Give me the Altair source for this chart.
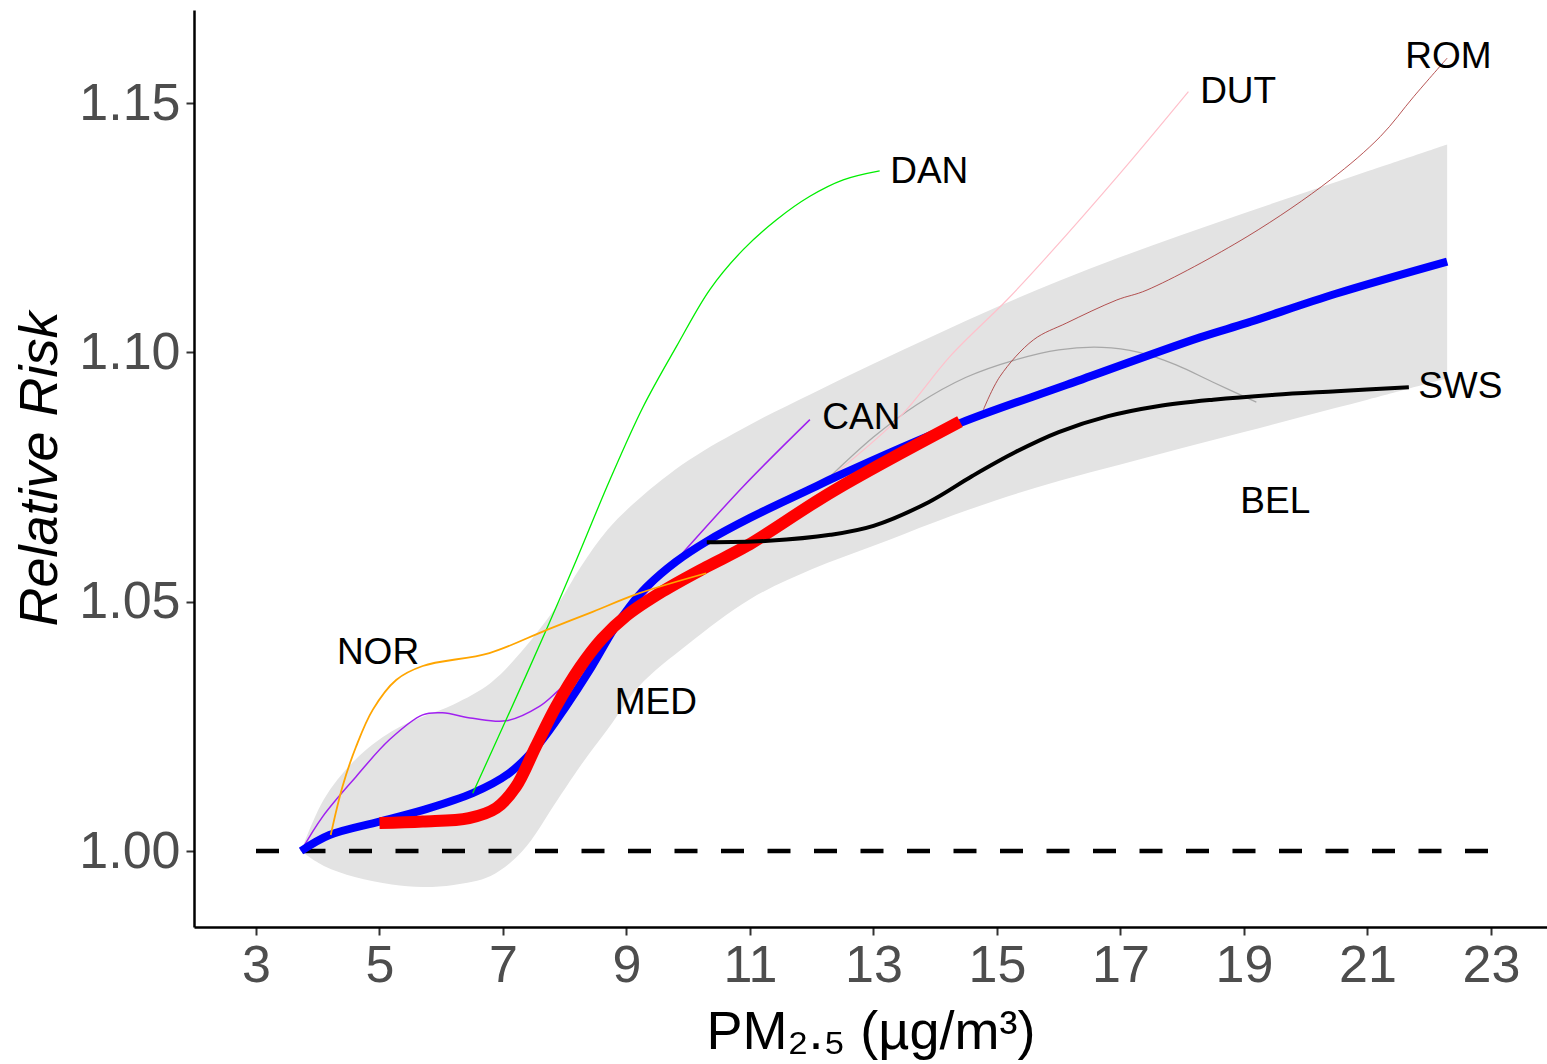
import altair as alt
import pandas as pd

# ---------------- data ----------------
band_x = [3.73, 4.1, 4.6, 5.2, 5.7, 6.2, 6.8, 7.3, 7.9, 8.25, 8.7, 9.2, 10.0, 11.0,
          12.0, 13.0, 14.0, 15.0, 16.0, 17.0, 18.0, 19.0, 20.0, 21.0, 22.29]
band_upper = [1.000, 1.0104, 1.0182, 1.0240, 1.0269, 1.0294, 1.0337, 1.0400, 1.0497, 1.0568,
              1.0645, 1.0706, 1.0783, 1.0855, 1.0917, 1.0977, 1.1035, 1.1091, 1.1143, 1.1191,
              1.1236, 1.1279, 1.1321, 1.1363, 1.1417]
band_lower = [1.000, 0.9970, 0.9948, 0.9933, 0.9928, 0.9932, 0.9950, 0.9998, 1.0106, 1.0170,
              1.0245, 1.0330, 1.0415, 1.0505, 1.0565, 1.0612, 1.0660, 1.0704, 1.0742, 1.0775,
              1.0808, 1.0840, 1.0873, 1.0905, 1.0948]

pooled_x = [3.73, 4.19, 5.00, 5.70, 6.51, 7.10, 7.59, 8.02, 8.40, 8.80, 9.05, 9.33, 9.80,
            10.30, 11.0, 12.0, 12.35, 14.40, 16.13, 18.29, 19.05, 20.5, 22.29]
pooled_y = [1.0000, 1.0032, 1.0059, 1.0082, 1.0116, 1.0156, 1.0216, 1.0290, 1.0362, 1.0446,
            1.0490, 1.0530, 1.0580, 1.0621, 1.0668, 1.0727, 1.0748, 1.0858, 1.0935, 1.1030,
            1.1059, 1.1118, 1.1182]

med_x = [5.00, 5.70, 6.45, 6.89, 7.21, 7.53, 7.86, 8.25, 8.60, 9.00, 9.59, 10.30, 10.95,
         12.35, 14.40]
med_y = [1.0056, 1.0059, 1.0066, 1.0086, 1.0129, 1.0209, 1.0290, 1.0369, 1.0425, 1.0472,
         1.0521, 1.0570, 1.0612, 1.0722, 1.0861]

can_x = [3.73, 4.08, 4.62, 5.16, 5.70, 6.02, 6.51, 7.05, 7.59, 7.91, 8.4, 9.2, 9.81, 10.89, 11.97]
can_y = [1.0000, 1.0069, 1.0149, 1.0223, 1.0273, 1.0277, 1.0266, 1.0261, 1.0290, 1.0323,
         1.0375, 1.0500, 1.0584, 1.0731, 1.0865]

nor_x = [4.21, 4.40, 4.62, 4.89, 5.27, 5.70, 6.78, 7.70, 8.40, 9.21, 10.29]
nor_y = [1.0032, 1.0129, 1.0209, 1.0283, 1.0343, 1.0371, 1.0397, 1.0443, 1.0477, 1.0517, 1.0557]

dan_x = [6.51, 7.05, 7.70, 8.19, 8.73, 9.27, 9.81, 10.35, 10.89, 11.43, 11.97, 12.51, 13.10]
dan_y = [1.0116, 1.0263, 1.0443, 1.0584, 1.0744, 1.0891, 1.1012, 1.1126, 1.1206, 1.1266,
         1.1313, 1.1346, 1.1364]

sws_x = [10.30, 11.3, 12.3, 13.0, 13.9, 14.6, 15.3, 16.0, 16.8, 17.6, 18.5, 19.5, 20.5, 21.67]
sws_y = [1.0619, 1.0622, 1.0634, 1.0652, 1.0700, 1.0752, 1.0800, 1.0840, 1.0872, 1.0892,
         1.0905, 1.0915, 1.0922, 1.0930]

bel_x = [12.3, 13.0, 13.7, 14.5, 15.3, 16.0, 16.7, 17.3, 17.9, 18.5, 19.2]
bel_y = [1.0751, 1.0830, 1.0895, 1.0950, 1.0985, 1.1005, 1.1010, 1.1000, 1.0975, 1.0940, 1.0900]

dut_x = [12.32, 13.43, 14.24, 15.16, 15.81, 17.0, 18.10]
dut_y = [1.0751, 1.0871, 1.0992, 1.1105, 1.1192, 1.1360, 1.1523]

rom_x = [14.78, 15.05, 15.59, 16.13, 16.94, 17.43, 19.05, 20.40, 21.21, 21.75, 22.29]
rom_y = [1.0885, 1.0952, 1.1025, 1.1059, 1.1105, 1.1125, 1.1232, 1.1346, 1.1433, 1.1513, 1.1590]

ref_x = [3, 23]
ref_y = [1.0, 1.0]

label_text = ["DAN", "DUT", "ROM", "CAN", "SWS", "BEL", "NOR", "MED"]
label_x = [13.27, 18.29, 21.61, 12.17, 21.82, 18.94, 4.31, 8.81]
label_y = [1.1362, 1.1523, 1.1593, 1.0869, 1.0931, 1.0700, 1.0397, 1.0297]

x_ticks = [3, 5, 7, 9, 11, 13, 15, 17, 19, 21, 23]
y_ticks = [1.00, 1.05, 1.10, 1.15]

# ---------------- chart ----------------
FONT = "Liberation Sans"
PLOT_W, PLOT_H = 1353, 917
xs = alt.Scale(domain=[1.996, 23.907], nice=False, zero=False)
ys = alt.Scale(domain=[0.98476, 1.16865], nice=False, zero=False)
SMOOTH = "catmull-rom"

x_axis = alt.Axis(values=x_ticks, format="d", title="PM₂.₅ (µg/m³)", grid=False,
                  domainColor="black", domainWidth=2.5, tickColor="#333333", tickWidth=2,
                  tickSize=8, labelFontSize=52, labelColor="#4D4D4D", labelFont=FONT,
                  labelPadding=5, titleFont=FONT, titleFontSize=54, titleFontWeight="normal",
                  titleColor="black", titleBaseline="alphabetic", titleY=121)
y_axis = alt.Axis(values=y_ticks, format=".2f", title="Relative Risk", grid=False,
                  domainColor="black", domainWidth=2.5, tickColor="#333333", tickWidth=2,
                  tickSize=8, labelFontSize=52, labelColor="#4D4D4D", labelFont=FONT,
                  labelPadding=6, titleFont=FONT, titleFontSize=54, titleFontWeight="normal",
                  titleFontStyle="italic", titleColor="black", titleBaseline="alphabetic",
                  titleAngle=270, titleX=-138, titleY=PLOT_H / 2)

band_df = pd.DataFrame({"x": band_x, "lo": band_lower, "hi": band_upper})
band = alt.Chart(band_df).mark_area(color="#e3e3e3", interpolate=SMOOTH).encode(
    x=alt.X("x:Q", scale=xs, axis=x_axis),
    y=alt.Y("lo:Q", scale=ys, axis=y_axis),
    y2="hi:Q",
)


def line(xv, yv, color, width, dash=None, interp=SMOOTH):
    df = pd.DataFrame({"x": xv, "y": yv})
    kw = dict(color=color, strokeWidth=width, interpolate=interp, strokeCap="butt")
    if dash:
        kw["strokeDash"] = dash
    return alt.Chart(df).mark_line(**kw).encode(
        x=alt.X("x:Q", scale=xs), y=alt.Y("y:Q", scale=ys))


ref = line(ref_x, ref_y, "black", 4.5, dash=[23, 23.5], interp="linear")
can = line(can_x, can_y, "#A020F0", 1.5)
bel = line(bel_x, bel_y, "#a8a8a8", 1.3)
dut = line(dut_x, dut_y, "#FFC0CB", 1.2)
rom = line(rom_x, rom_y, "#A52A2A", 0.8)
pooled = line(pooled_x, pooled_y, "#0000FF", 8)
med = line(med_x, med_y, "#FF0000", 12)
sws = line(sws_x, sws_y, "black", 4)
dan = line(dan_x, dan_y, "#00EE00", 1.3)
nor = line(nor_x, nor_y, "#FFA500", 1.8)

lab_df = pd.DataFrame({"t": label_text, "x": label_x, "y": label_y})
labels = alt.Chart(lab_df).mark_text(align="left", baseline="middle", fontSize=37,
                                     font=FONT, color="black").encode(
    x=alt.X("x:Q", scale=xs), y=alt.Y("y:Q", scale=ys), text="t:N")

chart = alt.layer(band, ref, can, bel, dut, rom, pooled, med, sws, dan, nor, labels).properties(
    width=PLOT_W, height=PLOT_H,
    autosize=alt.AutoSizeParams(type="none"),
    padding={"left": 194, "top": 10, "right": 0, "bottom": 137},
    background="white",
).configure_view(stroke=None)

chart.save("out.html", embed_options={"renderer": "svg", "actions": False})
